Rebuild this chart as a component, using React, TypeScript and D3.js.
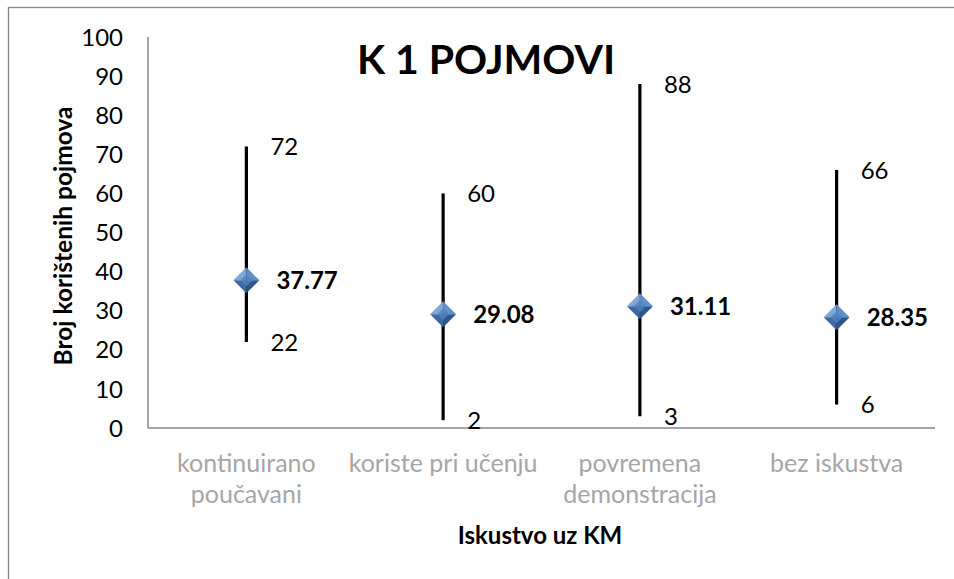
import React from "react";
import * as d3 from "d3";

const categories = [
  ["kontinuirano", "poučavani"],
  ["koriste pri učenju"],
  ["povremena", "demonstracija"],
  ["bez iskustva"],
];
const maxValues = [72, 60, 88, 66];
const minValues = [22, 2, 3, 6];
const meanValues = [37.77, 29.08, 31.11, 28.35];
const yTicks = [0, 10, 20, 30, 40, 50, 60, 70, 80, 90, 100];
const title = "K 1 POJMOVI";
const yTitle = "Broj korištenih pojmova";
const xTitle = "Iskustvo uz KM";

const FONT = "Lato, 'Open Sans', sans-serif";

export default function App() {
  const W = 954;
  const H = 579;
  const keys = categories.map((c, i) => String(i));
  const x = d3.scaleBand<string>().domain(keys).range([148, 935]);
  const y = d3.scaleLinear().domain([0, 100]).range([428, 37]);
  const cx = (i: number) => (x(String(i)) as number) + x.bandwidth() / 2;
  const r = 13;

  return (
    <svg
      width={W}
      height={H}
      style={{ position: "absolute", left: 0, top: 0, background: "#fff" }}
      fontFamily={FONT}
    >
      <rect x={8.5} y={7.5} width={980} height={600} fill="#fff" stroke="#868686" strokeWidth={1.3} />
      {/* axes */}
      <line x1={148} x2={148} y1={y(100)} y2={y(0)} stroke="#868686" strokeWidth={1.5} />
      <line x1={148} x2={935} y1={y(0)} y2={y(0)} stroke="#868686" strokeWidth={1.5} />
      {yTicks.map((t) => (
        <text key={t} x={123} y={y(t)} dy="0.36em" textAnchor="end" fontSize={24} fill="#000">
          {t}
        </text>
      ))}
      {categories.map((lines, i) => (
        <text key={i} x={cx(i)} y={472} textAnchor="middle" fontSize={25} fill="#a6a6a6">
          {lines.map((l, j) => (
            <tspan key={j} x={cx(i)} dy={j === 0 ? 0 : 31}>
              {l}
            </tspan>
          ))}
        </text>
      ))}
      <text x={540} y={544} textAnchor="middle" fontSize={24} fontWeight="bold" fill="#000">
        {xTitle}
      </text>
      <text
        transform={`translate(72,236) rotate(-90)`}
        textAnchor="middle"
        fontSize={24.5}
        fontWeight="bold"
        fill="#000"
      >
        {yTitle}
      </text>
      <text x={486} y={74} textAnchor="middle" fontSize={41} fontWeight="bold" fill="#000">
        {title}
      </text>
      {/* whiskers */}
      {categories.map((_, i) => (
        <g key={i}>
          <line x1={cx(i)} x2={cx(i)} y1={y(maxValues[i])} y2={y(minValues[i])} stroke="#000" strokeWidth={3.2} />
          <text x={cx(i) + 24} y={y(maxValues[i])} dy="0.36em" fontSize={24} fill="#000">
            {maxValues[i]}
          </text>
          <text x={cx(i) + 24} y={y(minValues[i])} dy="0.36em" fontSize={24} fill="#000">
            {minValues[i]}
          </text>
          <g transform={`translate(${cx(i)},${y(meanValues[i])})`}>
            <path d={`M0,${-r}L${-r},0L0,0Z`} fill="#7ea7d8" />
            <path d={`M0,${-r}L${r},0L0,0Z`} fill="#5f8fcb" />
            <path d={`M${-r},0L0,${r}L0,0Z`} fill="#3d6aa3" />
            <path d={`M${r},0L0,${r}L0,0Z`} fill="#2e5688" />
            <path d={`M0,-6L-6,0L0,6L6,0Z`} fill="#4f81bd" opacity={0.85} />
          </g>
          <text x={cx(i) + 30} y={y(meanValues[i])} dy="0.36em" fontSize={24} fontWeight="bold" fill="#000">
            {meanValues[i].toFixed(2)}
          </text>
        </g>
      ))}
    </svg>
  );
}
